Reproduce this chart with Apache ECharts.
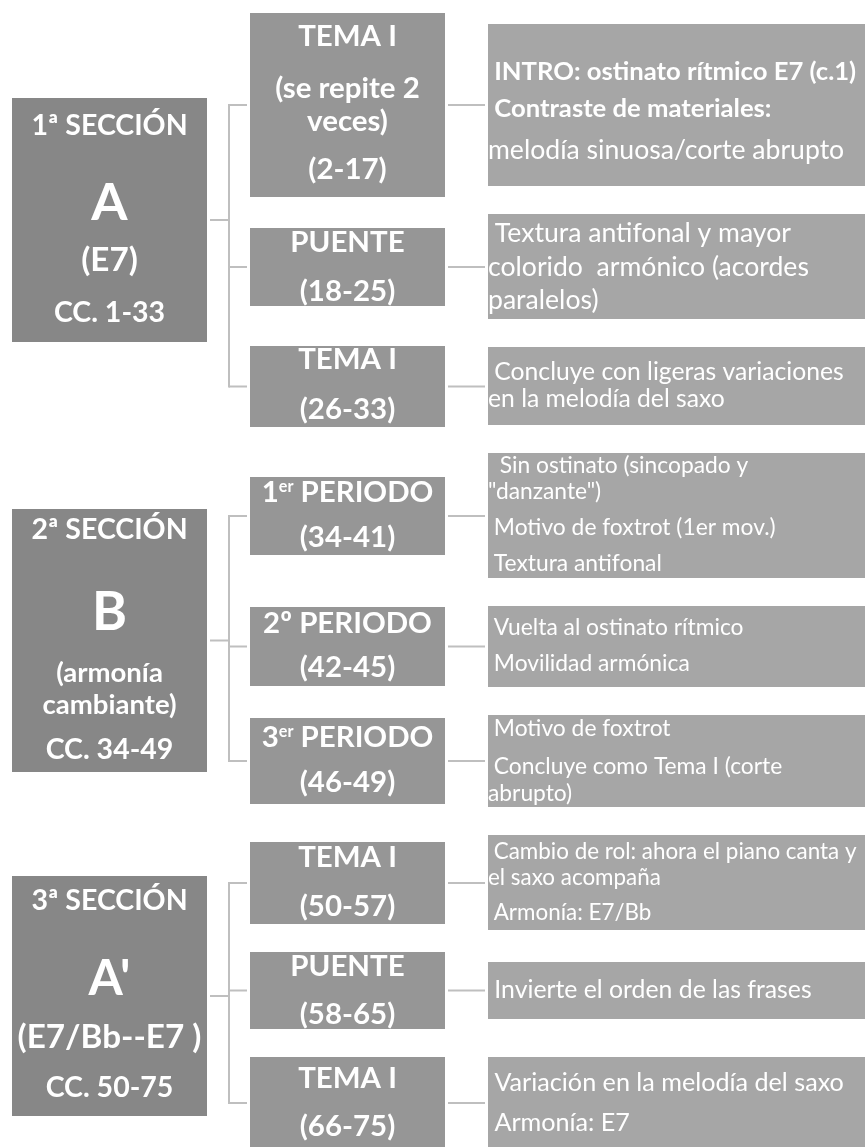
<!DOCTYPE html>
<html><head><meta charset="utf-8">
<script src="https://cdn.jsdelivr.net/npm/echarts@6/dist/echarts.min.js"></script>
<style>html,body{margin:0;padding:0;background:#fff}#c{width:865px;height:1147px}</style>
</head><body><div id="c"></div>
<script>
// ---------- DATA ----------
const sectionTitles = ['1ª SECCIÓN', '2ª SECCIÓN', '3ª SECCIÓN'];
const sectionLetters = ['A', 'B', "A'"];
const sectionKeys = [['(E7)'], ['(armonía', 'cambiante)'], ['(E7/Bb--E7 )']];
const sectionBars = ['CC. 1-33', 'CC. 34-49', 'CC. 50-75'];

const partNames = [
  ['TEMA I', '(se repite 2', 'veces)'],
  ['PUENTE'],
  ['TEMA I'],
  ['1{s|er} PERIODO'],
  ['2º PERIODO'],
  ['3{s|er} PERIODO'],
  ['TEMA I'],
  ['PUENTE'],
  ['TEMA I']
];
const partBars = ['(2-17)', '(18-25)', '(26-33)', '(34-41)', '(42-45)', '(46-49)', '(50-57)', '(58-65)', '(66-75)'];

const notes = [
  [' INTRO: ostinato rítmico E7 (c.1)', ' Contraste de materiales:', 'melodía sinuosa/corte abrupto'],
  [' Textura antifonal y mayor', 'colorido  armónico (acordes', 'paralelos)'],
  [' Concluye con ligeras variaciones', 'en la melodía del saxo'],
  ['  Sin ostinato (sincopado y', '"danzante")', ' Motivo de foxtrot (1er mov.)', ' Textura antifonal'],
  [' Vuelta al ostinato rítmico', ' Movilidad armónica'],
  [' Motivo de foxtrot', ' Concluye como Tema I (corte', 'abrupto)'],
  [' Cambio de rol: ahora el piano canta y', 'el saxo acompaña', ' Armonía: E7/Bb'],
  [' Invierte el orden de las frases'],
  [' Variación en la melodía del saxo', ' Armonía: E7']
];
const notesBold = [[true, true, false]];

// ---------- LAYOUT ----------
const K = 0.95; // font scale
const FONT = 'Lato, "Open Sans", sans-serif';
const SX0 = 12, SX1 = 207, VX = 229, MX0 = 250, MX1 = 445, RX0 = 488, RX1 = 865;
const sectionBoxY = [[98, 342], [509, 772], [876, 1116]];
const partBoxY = [[13, 197], [228, 306], [346, 427], [477, 555], [607, 686], [718, 804], [842, 924], [952, 1029], [1057, 1149]];
const noteBoxY = [[24, 186], [214, 319], [347, 425], [453, 578], [606, 687], [715, 807], [835, 930], [962, 1019], [1057, 1149]];
const sectionLineY = [[126, 203, 260, 313], [530, 613, 673, 705, 750], [901, 979, 1037, 1088]];
const sectionSizes = [[30, 55, 35, 30], [30, 56, 29, 29, 30], [30, 52, 35, 30]];
const partLineY = [[37, 89, 122, 170], [243, 292], [360, 410], [493, 538], [624, 668], [738, 783], [858, 907], [967, 1015], [1079, 1127]];
const partSize = 31;
const noteLineY = [[72, 109, 150], [233, 267, 300], [372, 399], [466, 492, 528, 564], [628, 664], [729, 767, 794], [852, 878, 913], [990], [1083, 1123]];
const noteSize = [28, 28, 26, 24, 24, 24, 23.6, 26.1, 26.5];
const noteBoldSize = 27;

const C_SECTION = '#878787', C_PART = '#969696', C_NOTE = '#a6a6a6', C_LINE = '#bfbfbf', C_TEXT = '#ffffff';

const els = [];
function rect(x0, y0, x1, y1, fill) {
  els.push({ type: 'rect', shape: { x: x0, y: y0, width: x1 - x0, height: y1 - y0 }, style: { fill: fill }, z: 1 });
}
function line(x1, y1, x2, y2) {
  els.push({ type: 'line', shape: { x1, y1, x2, y2 }, style: { stroke: C_LINE, lineWidth: 2 }, z: 0 });
}
function text(x, y, t, size, bold, align) {
  els.push({
    type: 'text', x: x, y: y, z: 2,
    style: {
      text: t, fill: C_TEXT, fontSize: size * K, fontFamily: FONT, fontWeight: bold ? 'bold' : 'normal',
      align: align, verticalAlign: 'middle',
      rich: { s: { fontSize: 17 * K, fontFamily: FONT, fontWeight: 'bold', fill: C_TEXT, verticalAlign: 'top' } }
    }
  });
}

// sections
sectionTitles.forEach((title, s) => {
  const [y0, y1] = sectionBoxY[s];
  rect(SX0, y0, SX1, y1, C_SECTION);
  const lines = [title, sectionLetters[s], ...sectionKeys[s], sectionBars[s]];
  const cx = (SX0 + SX1) / 2;
  lines.forEach((t, i) => text(cx, sectionLineY[s][i], t, sectionSizes[s][i], true, 'center'));
  // connectors
  const cy = (y0 + y1) / 2;
  const kids = [3 * s, 3 * s + 1, 3 * s + 2].map(p => (partBoxY[p][0] + partBoxY[p][1]) / 2);
  line(SX1 + 3, cy, VX, cy);
  line(VX, kids[0] - 1, VX, kids[2] + 1);
  kids.forEach(ky => { line(VX, ky, MX0 - 3, ky); line(MX1 + 3, ky, RX0 - 3, ky); });
});

// parts
partNames.forEach((names, p) => {
  const [y0, y1] = partBoxY[p];
  rect(MX0, y0, MX1, y1, C_PART);
  const lines = [...names, partBars[p]];
  const cx = (MX0 + MX1) / 2;
  lines.forEach((t, i) => text(cx, partLineY[p][i], t, partSize, true, 'center'));
});

// notes
notes.forEach((lines, n) => {
  const [y0, y1] = noteBoxY[n];
  rect(RX0, y0, RX1, y1, C_NOTE);
  lines.forEach((t, i) => {
    const bold = notesBold[n] ? notesBold[n][i] : false;
    text(RX0, noteLineY[n][i], t, bold ? noteBoldSize : noteSize[n], bold, 'left');
  });
});

const chart = echarts.init(document.getElementById('c'), null, { renderer: 'canvas' });
chart.setOption({ animation: false, backgroundColor: '#ffffff', graphic: { elements: els } });
</script></body></html>
